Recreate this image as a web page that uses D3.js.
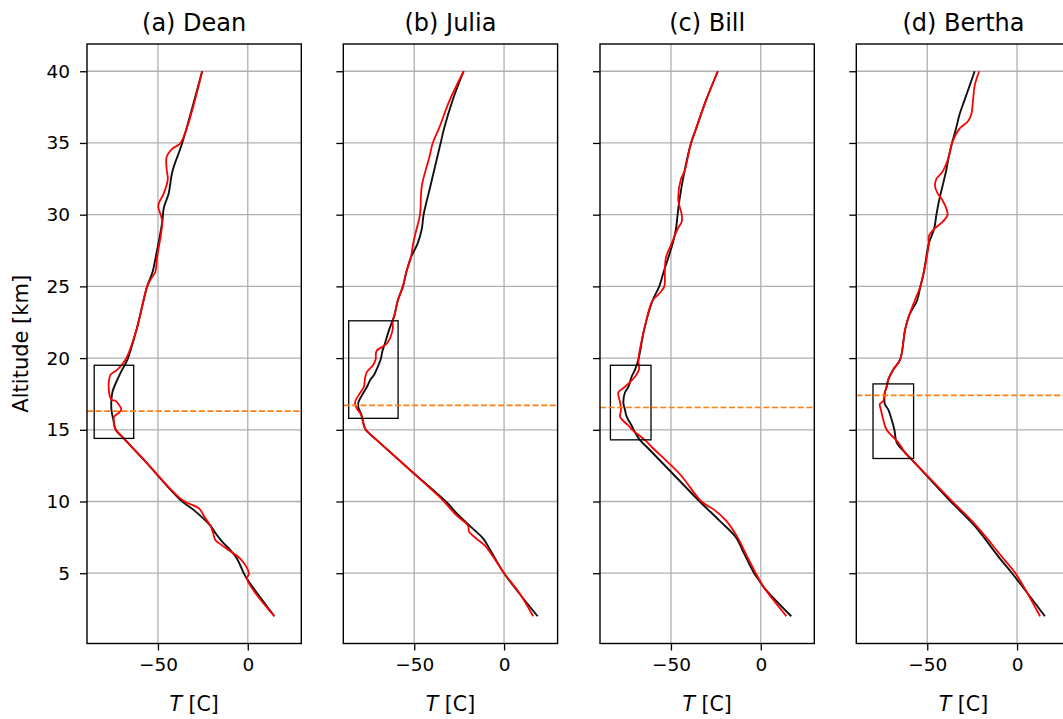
<!DOCTYPE html>
<html>
<head>
<meta charset="utf-8">
<script src="https://cdn.jsdelivr.net/npm/d3@7"></script>
<style>
body{margin:0;background:#fff;}
text{font-family:"DejaVu Sans",sans-serif;fill:#000;}
</style>
</head>
<body>
<svg id="chart" width="1063" height="719"></svg>
<script>
// titles, ticks
var titles = ["(a) Dean", "(b) Julia", "(c) Bill", "(d) Bertha"];
var xTicks = [-50, 0];
var yTicks = [5, 10, 15, 20, 25, 30, 35, 40];

// tropopause altitude (orange dashed) and the black boxes [Tmin,Tmax] [zmin,zmax]
var tropo = [16.3, 16.7, 16.55, 17.4];
var boxT = [[-85.5, -63.5], [-86.5, -59], [-83.7, -61.1], [-80.2, -57.6]];
var boxZ = [[14.4, 19.5], [15.8, 22.6], [14.3, 19.5], [13.0, 18.2]];

// (a) Dean - black
var deanAltK = [2.0, 4.6, 5.0, 6.0, 6.6, 7.2, 7.8, 8.3, 9.4, 10.1, 12.9, 14.5, 15.0, 15.7, 16.4, 17.6, 18.5, 19.0, 19.9, 22, 25, 26, 27, 29.5, 30.5, 31.5, 33, 35, 40];
var deanTK   = [14.8, -0.4, -2.2, -5.9, -9.6, -14.3, -18, -20.7, -30, -37.4, -57.8, -69.8, -73.5, -74.8, -75.9, -75.4, -72.6, -70.7, -67, -61.9, -56, -53, -51.3, -47.6, -46.7, -44, -42, -36.5, -25.4];
// (a) Dean - red
var deanAltR = [2.0, 4.6, 5.0, 6.0, 6.6, 7.1, 7.3, 7.8, 8.3, 8.9, 9.5, 10.1, 12.9, 14.5, 15.0, 15.3, 15.9, 16.2, 16.4, 17.0, 17.1, 17.6, 18.5, 18.85, 19.2, 19.9, 22, 25, 25.5, 26, 27, 29.5, 30.0, 30.5, 30.8, 31.5, 32.5, 33.0, 34.0, 34.6, 35.0, 40];
var deanTR   = [14.8, -0.4, 0.6, -4.1, -10.6, -16, -18, -19.3, -20.7, -24, -27, -36.5, -57.8, -69.8, -73.5, -74.4, -74.4, -71.7, -70.4, -73.5, -75.9, -77.2, -77.2, -76.3, -72.6, -68, -61.9, -56, -54, -51.5, -50.5, -47.6, -48.5, -49.8, -49.5, -46.7, -44.5, -45, -45.2, -42, -37.4, -25.4];

// (b) Julia - black
var juliaAltK = [2.0, 5.0, 6.6, 7.4, 8.3, 9.1, 10.0, 12.0, 14.3, 15.0, 15.3, 16.1, 16.5, 16.9, 17.6, 18.0, 18.5, 18.8, 19.2, 19.9, 20.5, 21, 22, 23, 24, 25, 26, 27, 28, 29, 30, 32, 34, 35, 36, 38, 40];
var juliaTK   = [18.7, 0, -7.6, -11.5, -19.1, -25.8, -32.4, -50.6, -71, -77, -78, -79.5, -81, -81.1, -78.2, -76.3, -74.4, -72.5, -71, -68.7, -67.7, -66.4, -63.9, -61, -59.2, -56.3, -54.4, -51.9, -48.1, -45.8, -44.8, -41, -37.2, -35.3, -33.4, -28.6, -22.5];
// (b) Julia - red
var juliaAltR = [2.0, 3.6, 5.0, 6.9, 7.4, 7.9, 8.3, 9.1, 10.0, 12.0, 14.3, 15.0, 15.3, 16.1, 16.5, 16.9, 17.6, 18.0, 18.5, 19.0, 19.5, 19.9, 20.5, 21, 22, 22.5, 23, 24, 25, 26, 27, 28, 29, 30, 32, 34, 35, 36, 38, 40];
var juliaTR   = [16.2, 8.6, 0, -10.5, -15.3, -19.5, -20, -27.1, -33.4, -50.6, -71, -77, -78, -79.8, -82, -83, -80, -78, -77.5, -76.5, -73, -71.5, -71, -65.3, -62, -62, -61, -59.2, -56.3, -54.4, -51.9, -50.6, -48.7, -46.8, -45.8, -41.6, -39.7, -36.3, -30.2, -22.5];

// (c) Bill - black
var billAltK = [2.0, 4.0, 4.5, 5.0, 6.35, 7.5, 8.67, 10.0, 11.9, 13.8, 14.26, 15.0, 15.3, 15.9, 16.4, 16.9, 17.6, 18.0, 18.7, 19.2, 19.9, 22, 24, 25, 26, 27, 28, 29, 30, 31, 33, 35, 36, 38, 40];
var billTK   = [17, 1.8, -0.9, -3.7, -9.2, -13.8, -23, -34, -48.7, -63.4, -67.1, -70.8, -71.9, -74.6, -75.6, -76.5, -75.6, -73.7, -71.9, -70, -68.1, -64.9, -60.3, -56.5, -54.1, -51.5, -49, -47.2, -46.3, -45.3, -42.5, -38.8, -36, -30.4, -23.9];
// (c) Bill - red
var billAltR = [2.0, 4.0, 5.0, 6.35, 7.5, 8.67, 9.4, 10.0, 11.9, 13.8, 14.26, 15.0, 15.3, 15.9, 16.4, 16.9, 17.6, 18.0, 18.7, 19.2, 19.9, 22, 24, 24.5, 25, 26, 27, 28, 29, 29.5, 30, 31, 32.5, 33, 35, 36, 38, 40];
var billTR   = [14.3, 1.8, -2.8, -8.3, -12.9, -19.3, -25.7, -33, -45, -60.7, -64.3, -71.5, -73.7, -78.3, -77.8, -78.3, -79.3, -75.6, -70, -67.8, -68.1, -64.9, -60.3, -56.5, -53.7, -53.4, -52.8, -49.6, -46.3, -44, -44, -45.9, -44.4, -42.5, -38.8, -36, -30.4, -23.9];

// (d) Bertha - black
var berthaAltK = [2.0, 5.0, 6.0, 8.3, 10.1, 12.9, 13.4, 14.1, 15.0, 15.7, 16.4, 16.8, 17.6, 18.0, 18.5, 19.2, 19.9, 22, 23, 24, 25, 26, 28, 29, 30, 31, 32, 33, 34, 35, 36, 37, 38, 39, 40];
var berthaTK   = [15.5, -2.8, -9.4, -23.6, -37.7, -58.5, -62.3, -67, -68.3, -69.8, -71.7, -73.6, -73.6, -72.6, -71.7, -68.9, -65.1, -62.3, -60, -55.7, -53.8, -51.9, -49.1, -46.2, -44.9, -43.4, -41.5, -39.6, -38.1, -36.2, -34, -32, -29.2, -26.4, -23.6];
// (d) Bertha - red
var berthaAltR = [2.0, 5.0, 6.0, 8.3, 10.1, 12.9, 13.4, 14.1, 15.0, 15.7, 16.4, 16.8, 17.0, 17.6, 18.0, 18.5, 19.2, 19.9, 22, 23, 24, 25, 26, 28, 28.5, 29, 29.5, 30, 31, 31.5, 32, 32.5, 33, 34, 35, 36, 36.5, 37, 38, 39, 40];
var berthaTR   = [12.8, -0.9, -7.5, -22.6, -36.8, -58.5, -62.3, -66, -72.6, -74.5, -75.8, -76.4, -74.5, -73.6, -72.6, -71.7, -68.9, -65.1, -62.3, -60, -57, -53.8, -51.9, -49.1, -49.1, -46.2, -41.5, -38.7, -41.5, -44.3, -45.7, -44.9, -41.5, -38.1, -36.2, -32, -27.4, -25.5, -24.5, -23.6, -21.1];

function pairs(alt, t) {
  return alt.map(function(z, i){ return {z: z, t: t[i]}; });
}

var panels = [
  {k: pairs(deanAltK, deanTK),     r: pairs(deanAltR, deanTR)},
  {k: pairs(juliaAltK, juliaTK),   r: pairs(juliaAltR, juliaTR)},
  {k: pairs(billAltK, billTK),     r: pairs(billAltR, billTR)},
  {k: pairs(berthaAltK, berthaTK), r: pairs(berthaAltR, berthaTR)}
];

var svg = d3.select("#chart");
var lefts = [87, 343.3, 600, 856.3];
var top0 = 44, W = 214.3, H = 599.5;

var x = d3.scaleLinear().domain([-89.5, 29.8]).range([0, W]);
var y = d3.scaleLinear().domain([0.1, 41.9]).range([H, 0]);

var line = d3.line()
  .x(function(d){ return x(d.t); })
  .y(function(d){ return y(d.z); })
  .curve(d3.curveCatmullRom.alpha(0.5));

panels.forEach(function(p, i){
  var g = svg.append("g").attr("transform", "translate(" + lefts[i] + "," + top0 + ")");

  g.append("clipPath").attr("id", "clip" + i)
    .append("rect").attr("width", W).attr("height", H);

  // grid
  g.selectAll(".gx").data(xTicks).enter().append("line")
    .attr("x1", function(d){ return x(d); }).attr("x2", function(d){ return x(d); })
    .attr("y1", 0).attr("y2", H)
    .attr("stroke", "#b0b0b0").attr("stroke-width", 1.3);
  g.selectAll(".gy").data(yTicks).enter().append("line")
    .attr("y1", function(d){ return y(d); }).attr("y2", function(d){ return y(d); })
    .attr("x1", 0).attr("x2", W)
    .attr("stroke", "#b0b0b0").attr("stroke-width", 1.3);

  var plot = g.append("g").attr("clip-path", "url(#clip" + i + ")");

  plot.append("path").datum(p.k).attr("d", line)
    .attr("fill", "none").attr("stroke", "#111").attr("stroke-width", 1.9);
  plot.append("path").datum(p.r).attr("d", line)
    .attr("fill", "none").attr("stroke", "#ff0000").attr("stroke-width", 1.8);

  plot.append("rect")
    .attr("x", x(boxT[i][0])).attr("width", x(boxT[i][1]) - x(boxT[i][0]))
    .attr("y", y(boxZ[i][1])).attr("height", y(boxZ[i][0]) - y(boxZ[i][1]))
    .attr("fill", "none").attr("stroke", "#000").attr("stroke-width", 1.3);

  plot.append("line")
    .attr("x1", 0).attr("x2", W)
    .attr("y1", y(tropo[i])).attr("y2", y(tropo[i]))
    .attr("stroke", "#ff7f0e").attr("stroke-width", 1.6)
    .attr("stroke-dasharray", "6,2.6");

  // axes
  var ax = g.append("g").attr("transform", "translate(0," + H + ")")
    .call(d3.axisBottom(x).tickValues(xTicks).tickSize(7).tickPadding(7.5));
  var ay = g.append("g")
    .call(d3.axisLeft(y).tickValues(yTicks).tickSize(7).tickPadding(10)
      .tickFormat(i == 0 ? d3.format("d") : ""));
  [ax, ay].forEach(function(a){
    a.select(".domain").remove();
    a.selectAll("line").attr("stroke", "#000").attr("stroke-width", 1.3);
    a.selectAll("text").attr("font-size", "18.5px").attr("font-family", "DejaVu Sans").attr("fill", "#222");
  });

  // frame
  g.append("rect").attr("width", W).attr("height", H)
    .attr("fill", "none").attr("stroke", "#000").attr("stroke-width", 1.4);

  // title
  g.append("text").attr("x", W / 2).attr("y", -13)
    .attr("text-anchor", "middle").attr("font-size", "24px").attr("fill", "#222")
    .text(titles[i]);

  // x label
  var xl = g.append("text").attr("x", W / 2).attr("y", H + 67)
    .attr("text-anchor", "middle").attr("font-size", "20.5px").attr("fill", "#222");
  xl.append("tspan").attr("font-style", "italic").text("T");
  xl.append("tspan").text(" [C]");
});

svg.append("text")
  .attr("transform", "translate(28," + (top0 + H / 2) + ") rotate(-90)")
  .attr("text-anchor", "middle").attr("font-size", "21px").attr("fill", "#222")
  .text("Altitude [km]");
</script>
</body>
</html>
